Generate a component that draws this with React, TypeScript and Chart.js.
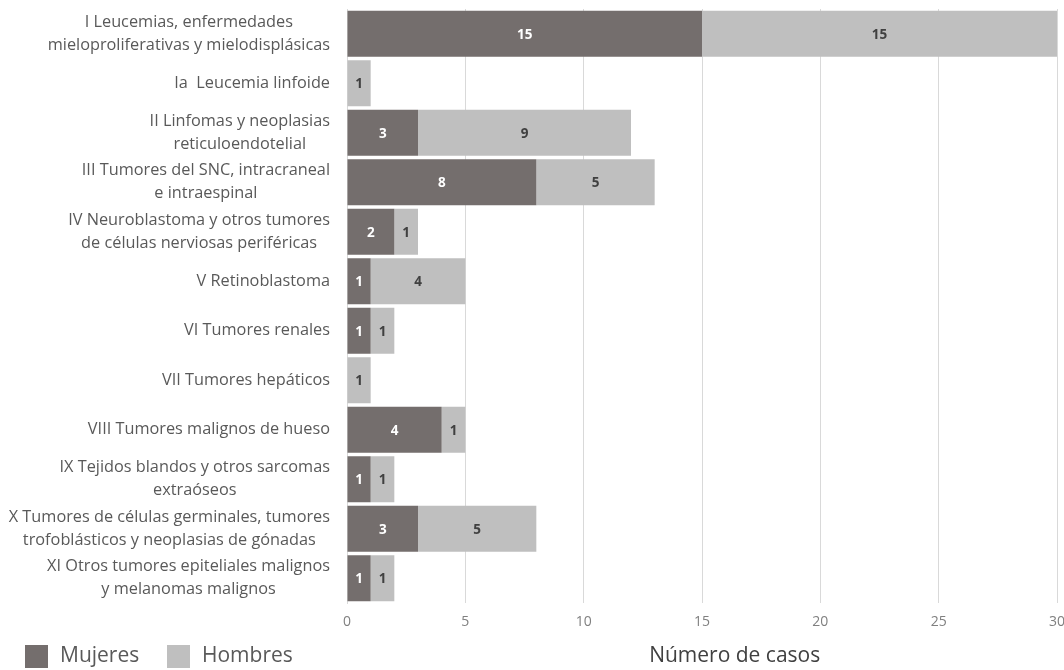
import React, { useEffect, useRef } from "react";
import { Chart, registerables } from "chart.js";

Chart.register(...registerables);

const categories: (string | string[])[] = [
  ["I Leucemias, enfermedades", "mieloproliferativas y mielodisplásicas"],
  "Ia  Leucemia linfoide",
  ["II Linfomas y neoplasias", "reticuloendotelial"],
  ["III Tumores del SNC, intracraneal", "e intraespinal"],
  ["IV Neuroblastoma y otros tumores", "de células nerviosas periféricas"],
  "V Retinoblastoma",
  "VI Tumores renales",
  "VII Tumores hepáticos",
  "VIII Tumores malignos de hueso",
  ["IX Tejidos blandos y otros sarcomas", "extraóseos"],
  ["X Tumores de células germinales, tumores", "trofoblásticos y neoplasias de gónadas"],
  ["XI Otros tumores epiteliales malignos", "y melanomas malignos"],
];

const mujeres = [15, 0, 3, 8, 2, 1, 1, 0, 4, 1, 3, 1];
const hombres = [15, 1, 9, 5, 1, 4, 1, 1, 1, 1, 5, 1];
const xTicks = [0, 5, 10, 15, 20, 25, 30];
const axisTitle = "Número de casos";

const DARK = "#746e6d";
const LIGHT = "#bfbfbf";
const TEXT = "#595959";
const FONT = "'Open Sans', sans-serif";

const customPlugin = {
  id: "custom",
  afterDatasetsDraw(chart: any) {
    const ctx = chart.ctx;
    ctx.save();
    ctx.font = `bold 13.5px ${FONT}`;
    ctx.textAlign = "center";
    ctx.textBaseline = "middle";
    chart.data.datasets.forEach((ds: any, di: number) => {
      const meta = chart.getDatasetMeta(di);
      meta.data.forEach((bar: any, i: number) => {
        const v = ds.data[i];
        if (!v) return;
        const cx = (bar.x + bar.base) / 2;
        ctx.fillStyle = di === 0 ? "#ffffff" : "#404040";
        ctx.fillText(String(v), cx, bar.y + 1);
      });
    });
    ctx.restore();
  },
  afterDraw(chart: any) {
    const ctx = chart.ctx;
    const yScale = chart.scales.y;
    const area = chart.chartArea;
    ctx.save();
    ctx.font = `16.3px ${FONT}`;
    ctx.fillStyle = TEXT;
    ctx.textAlign = "center";
    ctx.textBaseline = "middle";
    const lh = 23;
    const right = area.left - 17;
    categories.forEach((lab, i) => {
      const lines = Array.isArray(lab) ? lab : [lab];
      const w = Math.max(...lines.map((l) => ctx.measureText(l).width));
      const cx = right - w / 2;
      const y = yScale.getPixelForValue(i);
      const y0 = y - ((lines.length - 1) * lh) / 2;
      lines.forEach((l, k) => ctx.fillText(l, cx, y0 + k * lh));
    });
    ctx.font = `21px ${FONT}`;
    ctx.textAlign = "left";
    ctx.textBaseline = "middle";
    const ly = 656;
    const items = [
      { label: "Mujeres", color: DARK, x: 25 },
      { label: "Hombres", color: LIGHT, x: 167 },
    ];
    items.forEach((it) => {
      ctx.fillStyle = it.color;
      ctx.fillRect(it.x, ly - 11, 23, 23);
      ctx.fillStyle = TEXT;
      ctx.fillText(it.label, it.x + 35, ly);
    });
    ctx.textAlign = "center";
    ctx.fillStyle = "#404040";
    ctx.fillText(axisTitle, area.left + (area.right - area.left) * 0.546, ly);
    ctx.restore();
  },
};

export default function App() {
  const ref = useRef<HTMLCanvasElement>(null);
  useEffect(() => {
    if (!ref.current) return;
    document.body.style.margin = "0";
    document.documentElement.style.overflow = "hidden";
    document.body.style.overflow = "hidden";
    const chart = new Chart(ref.current, {
      type: "bar",
      data: {
        labels: categories as any,
        datasets: [
          { label: "Mujeres", data: mujeres, backgroundColor: DARK, categoryPercentage: 0.93, barPercentage: 1 },
          { label: "Hombres", data: hombres, backgroundColor: LIGHT, categoryPercentage: 0.93, barPercentage: 1 },
        ],
      },
      options: {
        indexAxis: "y",
        animation: false,
        responsive: false,
        maintainAspectRatio: false,
        layout: { autoPadding: false, padding: { left: 0, right: 7, top: 9, bottom: 0 } } as any,
        plugins: { legend: { display: false }, tooltip: { enabled: false } },
        scales: {
          x: {
            stacked: true,
            min: 0,
            max: 30,
            afterBuildTicks: (s: any) => {
              s.ticks = xTicks.map((v) => ({ value: v }));
            },
            afterFit: (s: any) => {
              s.height = 67;
              s.paddingRight = 0;
              s.paddingLeft = 0;
            },
            grid: { color: "#d9d9d9", drawTicks: false, lineWidth: 1 },
            border: { display: false },
            ticks: { color: "#808080", font: { family: FONT, size: 14 }, padding: 11 },
          },
          y: {
            stacked: true,
            afterFit: (s: any) => {
              s.width = 347;
            },
            grid: { display: false },
            border: { display: true, color: "#d9d9d9" },
            ticks: { display: false },
          },
        },
      },
      plugins: [customPlugin],
    });
    return () => chart.destroy();
  }, []);
  return (
    <div style={{ width: 1064, height: 670, position: "relative" }}>
      <canvas ref={ref} width={1064} height={670} style={{ display: "block", width: 1064, height: 670 }} />
    </div>
  );
}
